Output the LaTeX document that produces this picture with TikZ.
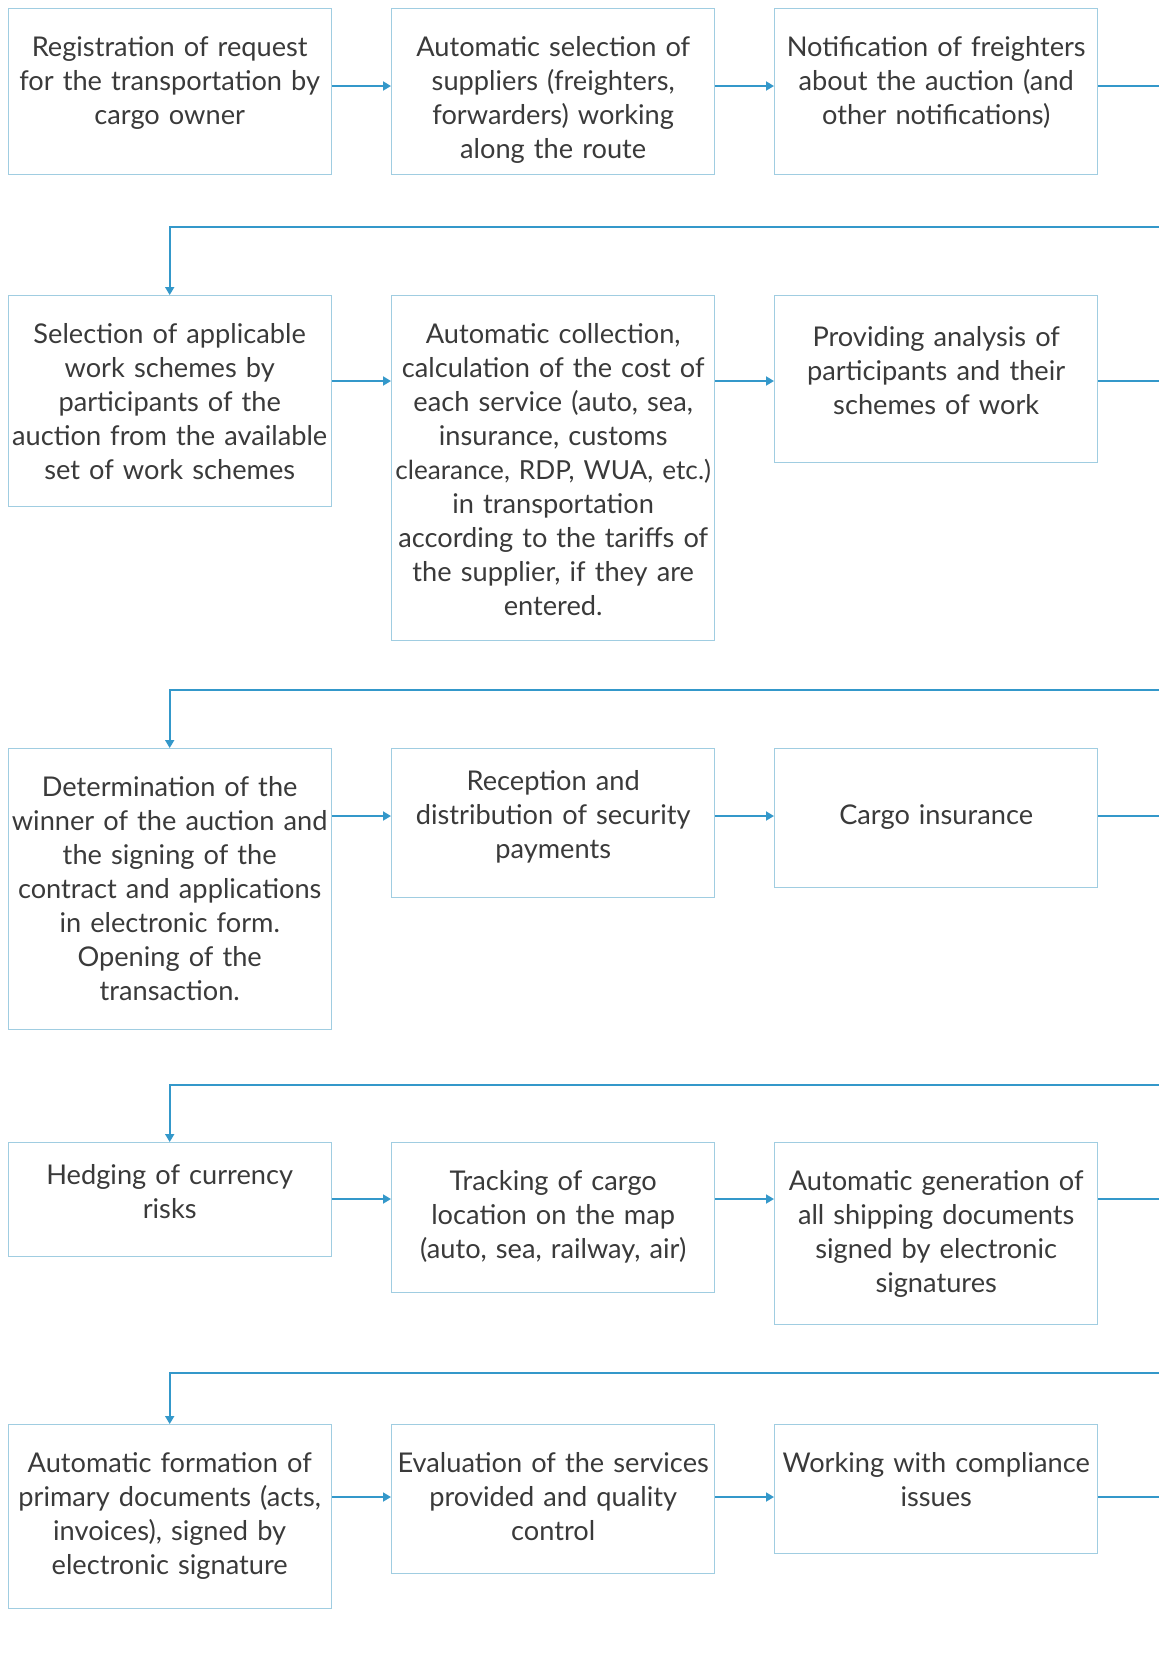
\documentclass[tikz,border=0pt]{standalone}
\usepackage{fontspec}
\setmainfont{Lato}
\usetikzlibrary{arrows.meta,positioning,calc}
\definecolor{boxline}{RGB}{160,205,225}
\definecolor{flowblue}{RGB}{52,152,202}
\definecolor{txt}{RGB}{58,58,58}

\begin{document}
\begin{tikzpicture}[x=0.5pt,y=-0.5pt,
    stepbox/.style={draw=boxline, line width=0.7pt, anchor=north west,
      minimum width=161.5pt, text width=161.5pt, inner sep=0pt,
      align=center, text=txt, text height=24pt,
      font=\fontsize{13.6}{17}\selectfont},
    flow/.style={flowblue, line width=0.9pt, -{Triangle[length=4pt,width=4.5pt]}},
    link/.style={flowblue, line width=0.9pt}]
  \useasboundingbox (0,0) rectangle (1159,1672);

  % heights of the arrows and of the turns
  \coordinate (r1) at (0,86);
  \coordinate (r2) at (0,381);
  \coordinate (r3) at (0,816);
  \coordinate (r4) at (0,1199);
  \coordinate (r5) at (0,1497);
  \coordinate (t1) at (0,227);
  \coordinate (t2) at (0,690);
  \coordinate (t3) at (0,1085);
  \coordinate (t4) at (0,1373);
  \coordinate (edge) at (1162,0);
  \coordinate (bottom) at (0,1672);

  % row 1
  \node[stepbox, text depth=59.25pt] (reg) at (7.5,7.5)
    {Registration of request\\for the transportation by\\cargo owner};
  \node[stepbox, text depth=59.25pt] (select) at (391,7.5)
    {Automatic selection of\\suppliers (freighters,\\forwarders) working\\along the route};
  \node[stepbox, text depth=59.25pt] (notify) at (774,7.5)
    {Notification of freighters\\about the auction (and\\other notifications)};

  % row 2
  \node[stepbox, text depth=81.5pt] (schemes) at (7.5,295)
    {Selection of applicable\\work schemes by\\participants of the\\auction from the available\\set of work schemes};
  \node[stepbox, text depth=148.5pt] (collect) at (391,295)
    {Automatic collection,\\calculation of the cost of\\each service (auto, sea,\\insurance, customs\\\makebox[161.5pt]{\fontsize{13.1}{17}\selectfont clearance, RDP, WUA, etc.)}\\in transportation\\according to the tariffs of\\the supplier, if they are\\entered.};
  \node[stepbox, text height=25.5pt, text depth=58pt] (analysis) at (774,295)
    {Providing analysis of\\participants and their\\schemes of work};

  % row 3
  \node[stepbox, text depth=116.5pt] (winner) at (7.5,748)
    {Determination of the\\winner of the auction and\\the signing of the\\contract and applications\\in electronic form.\\Opening of the\\transaction.};
  \node[stepbox, text height=21pt, text depth=53.5pt] (deposit) at (391,748)
    {Reception and\\distribution of security\\payments};
  \node[stepbox, text height=38pt, text depth=31.5pt] (insure) at (774,748)
    {Cargo insurance};

  % row 4
  \node[stepbox, text height=21pt, text depth=36pt] (hedge) at (7.5,1142)
    {Hedging of currency\\risks};
  \node[stepbox, text depth=51pt] (track) at (391,1142)
    {Tracking of cargo\\location on the map\\(auto, sea, railway, air)};
  \node[stepbox, text depth=67pt] (shipdocs) at (774,1142)
    {Automatic generation of\\all shipping documents\\signed by electronic\\signatures};

  % row 5
  \node[stepbox, text depth=68pt] (primary) at (7.5,1424)
    {Automatic formation of\\primary documents (acts,\\invoices), signed by\\electronic signature};
  \node[stepbox, text depth=50.5pt] (evaluate) at (391,1424)
    {Evaluation of the services\\provided and quality\\control};
  \node[stepbox, text depth=40.5pt] (comply) at (774,1424)
    {Working with compliance\\issues};

  % arrows inside the rows
  \draw[flow] (reg.east |- r1) -- (select.west |- r1);
  \draw[flow] (select.east |- r1) -- (notify.west |- r1);
  \draw[flow] (schemes.east |- r2) -- (collect.west |- r2);
  \draw[flow] (collect.east |- r2) -- (analysis.west |- r2);
  \draw[flow] (winner.east |- r3) -- (deposit.west |- r3);
  \draw[flow] (deposit.east |- r3) -- (insure.west |- r3);
  \draw[flow] (hedge.east |- r4) -- (track.west |- r4);
  \draw[flow] (track.east |- r4) -- (shipdocs.west |- r4);
  \draw[flow] (primary.east |- r5) -- (evaluate.west |- r5);
  \draw[flow] (evaluate.east |- r5) -- (comply.west |- r5);

  % turns to the next row (the down line runs past the page edge)
  \draw[flow] (notify.east |- r1) -- (edge |- r1) -- (edge |- t1)
    -- (schemes.north |- t1) -- (schemes.north);
  \draw[flow] (analysis.east |- r2) -- (edge |- r2) -- (edge |- t2)
    -- (winner.north |- t2) -- (winner.north);
  \draw[flow] (insure.east |- r3) -- (edge |- r3) -- (edge |- t3)
    -- (hedge.north |- t3) -- (hedge.north);
  \draw[flow] (shipdocs.east |- r4) -- (edge |- r4) -- (edge |- t4)
    -- (primary.north |- t4) -- (primary.north);
  \draw[link] (comply.east |- r5) -- (edge |- r5) -- (edge |- bottom);
\end{tikzpicture}
\end{document}
